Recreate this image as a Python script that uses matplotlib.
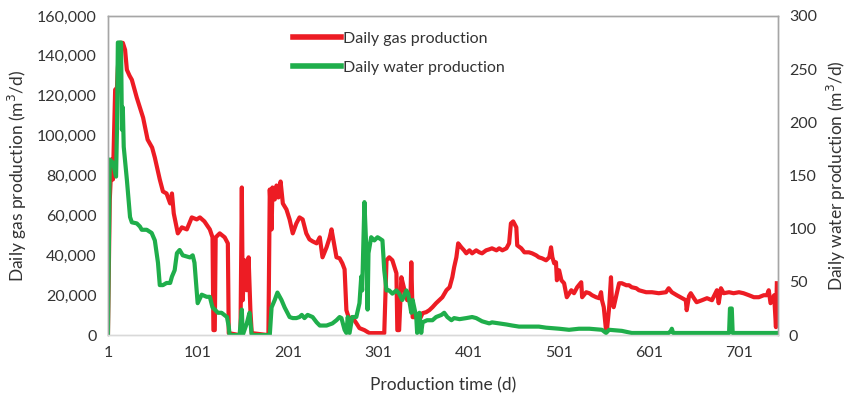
import matplotlib.pyplot as plt
from matplotlib.ticker import FuncFormatter

# gas production, left axis (m3/d)
gas_day = [1, 3, 5, 6.5, 9, 11, 12, 14, 17.5, 20, 22, 25, 27.5, 33, 40, 45, 50, 53, 58.5, 62,
           66, 70, 72, 74, 78.5, 83, 88.5, 94, 99.5, 103, 108, 114, 117, 118, 119.5, 120.5, 125, 130.5,
           134, 135, 147, 148, 149.5, 150.5, 152.5, 155, 157, 159, 160.5, 179, 180.5, 182.5, 183.5, 186,
           188, 190, 192.5, 195, 199, 202.5, 206, 210, 213.5, 217, 221, 224.5, 228, 232.5, 236, 239,
           243.5, 247, 249, 251, 254.5, 258, 261, 263.5, 265.5, 269, 272, 276.5, 280, 285.5, 291, 307.5,
           310, 313, 316.5, 321, 322, 324, 326.5, 330, 333, 336.5, 337.5, 339, 343, 346.5, 350, 354,
           357.5, 361, 365, 368.5, 372, 376.5, 380, 383, 385, 387.5, 389.5, 393, 396, 398.5, 402, 405,
           409.5, 413, 416, 420.5, 424, 427, 432, 435, 438.5, 443, 446, 448, 450.5, 454, 455, 459.5,
           463, 468, 471.5, 476, 479, 482.5, 487, 490.5, 492.5, 494, 496, 498, 499, 501.5, 504, 507,
           510, 515, 518, 521.5, 526, 527, 531.5, 535, 538, 542.5, 546, 548, 549, 551, 553.5, 554.5,
           557, 559, 560, 562, 564.5, 568, 571, 576, 579, 582, 587, 590, 598, 604.5, 612, 620, 623,
           626.5, 632, 638, 642, 643, 645.5, 647.5, 651, 654, 660, 665.5, 671, 676.5, 678.5, 681, 684,
           690, 695, 701, 706, 712, 717.5, 723, 728.5, 732, 734, 736, 740, 742, 743]
gas_val = [0, 67700, 88000, 78000, 123000, 124000, 134000, 146500, 146500, 143000, 133000, 130000,
           128000, 119000, 109000, 98000, 94000, 89000, 78000, 72000, 71000, 66000, 71000, 61000,
           51000, 54000, 53000, 59000, 58000, 59000, 57000, 53000, 49000, 2500, 2500, 49000, 51000,
           49000, 46000, 1000, 0, 0, 74000, 17500, 37500, 22500, 39000, 12500, 1000, 0, 73000, 53000,
           74000, 68000, 75000, 69000, 77000, 66000, 63000, 58000, 51000, 56000, 59000, 58000, 51000,
           48000, 47000, 46000, 49000, 39000, 44000, 49000, 53000, 48000, 39000, 38500, 36000, 33000,
           12500, 7500, 9000, 6000, 3500, 2500, 1000, 1000, 37500, 39000, 37500, 31000, 2500, 2500,
           29000, 22500, 17500, 17500, 36500, 9000, 9000, 7500, 11000, 11500, 12500, 14000, 16000,
           17500, 19000, 22500, 24000, 29000, 34000, 39000, 46000, 44000, 42500, 41000, 42500, 41000,
           42500, 41500, 41000, 42500, 43000, 43500, 42500, 43500, 42500, 43500, 46000, 56000, 57000,
           54000, 45000, 43500, 41500, 41500, 41000, 40000, 39000, 38500, 37500, 39000, 44000, 39000,
           36000, 36500, 27500, 32500, 27500, 26000, 19000, 22500, 21000, 24000, 26500, 19000, 21500,
           21000, 20000, 19000, 18500, 21500, 17500, 14000, 2500, 2500, 14000, 29000, 17500, 14000,
           19000, 26000, 26000, 25000, 25000, 24000, 23500, 22500, 21500, 21500, 21000, 21500, 23500,
           21500, 20000, 18500, 17500, 12500, 19500, 21000, 18500, 16500, 17500, 18500, 17500, 22500,
           16000, 23500, 21000, 21500, 21000, 21500, 21000, 20000, 19000, 19000, 20000, 20000, 22500,
           16000, 20000, 4000, 26000]

# water production, right axis (m3/d)
water_day = [1, 3, 6.5, 10, 11, 12, 15.5, 16.5, 17.5, 18.5, 22, 25.5, 27.5, 33, 36.5, 38.5, 44, 49.5,
             53, 56.5, 58.5, 62, 66, 70, 72, 75, 77.5, 80.5, 84, 92, 95, 97, 99.5, 100.5, 105, 110.5,
             114, 117, 119.5, 123, 127, 133, 135, 136, 147, 149.5, 150.5, 155, 158, 160.5, 180.5,
             182.5, 186, 189, 193.5, 197, 202.5, 206, 210, 213.5, 216, 219, 222.5, 228, 232.5, 236,
             243.5, 250, 254.5, 258, 260, 263.5, 265.5, 267, 269, 272, 276.5, 280, 282, 283, 285.5,
             288, 289, 290, 293, 296.5, 300, 302, 305.5, 307.5, 310, 313, 316.5, 321, 324, 327.5, 332,
             334, 337.5, 339, 343, 344, 346.5, 348.5, 350, 355, 361, 365, 371, 374, 377.5, 382, 385,
             391, 398.5, 405, 409.5, 416, 424, 427, 435, 443, 449.5, 457, 465, 479, 487, 501.5, 512.5,
             523.5, 535, 549, 553.5, 557, 571, 582, 623, 625.5, 626.5, 628, 690, 691, 693, 694, 743]
water_val = [0, 165, 162, 149, 193, 275, 275, 193, 214, 177, 146, 111, 106, 105, 102, 99, 99, 96, 89,
             68, 47, 47, 49, 49, 55, 61, 77, 80, 75, 73, 75, 68, 40, 30, 38, 36, 36, 26, 24, 21, 21, 17,
             8, 0, 0, 24, 0, 11, 21, 0, 0, 26, 33, 40, 33, 26, 17, 16, 16, 17, 19, 16, 19, 17, 12, 9, 9,
             11, 14, 17, 16, 5, 2, 17, 2, 17, 17, 30, 55, 42, 125, 73, 24, 77, 92, 89, 92, 91, 89, 61,
             42, 42, 39, 42, 39, 33, 42, 39, 21, 33, 17, 2, 21, 2, 12, 14, 14, 17, 19, 21, 17, 14, 16, 15,
             16, 17, 16, 13, 11, 12, 11, 10, 9, 8, 8, 8, 7, 6, 5, 6, 6, 5, 2, 5, 4, 2, 2, 4, 6, 2, 2, 25,
             25, 2, 2]

x_ticks = [1, 101, 201, 301, 401, 501, 601, 701]
gas_ticks = list(range(0, 160001, 20000))
water_ticks = list(range(0, 301, 50))

red = '#ed1c24'
green = '#1fae4b'

plt.rcParams['font.family'] = ['Lato', 'DejaVu Sans']

fig = plt.figure(figsize=(8.5, 3.98), dpi=100)
ax = fig.add_axes([0.127, 0.158, 0.788, 0.802])
ax2 = ax.twinx()

l1, = ax.plot(gas_day, gas_val, color=red, lw=3.0, solid_joinstyle='round')
l2, = ax2.plot(water_day, water_val, color=green, lw=3.0, solid_joinstyle='round')

ax.set_xlim(1, 744)
ax.set_ylim(0, 160000)
ax2.set_ylim(0, 300)
ax.set_xticks(x_ticks)
ax.set_yticks(gas_ticks)
ax2.set_yticks(water_ticks)
ax.yaxis.set_major_formatter(FuncFormatter(lambda v, p: f'{int(v):,}'))

for a in (ax, ax2):
    a.tick_params(length=0, labelsize=11.5, colors='#333333', pad=8)
    for s in a.spines.values():
        s.set_color('#a6a6a6')
        s.set_linewidth(1.0)
    a.spines['bottom'].set_color('#d9d9d9')

ax.set_xlabel('Production time (d)', fontsize=12.5, color='#333333', labelpad=12)
ax.set_ylabel('Daily gas production (m$^3$/d)', fontsize=12.5, color='#333333', labelpad=6)
ax2.set_ylabel('Daily water production (m$^3$/d)', fontsize=12.5, color='#333333', labelpad=6)

ax2.legend([l1, l2], ['Daily gas production', 'Daily water production'],
           loc='upper left', bbox_to_anchor=(0.255, 0.995), frameon=False,
           fontsize=11.5, handlelength=3.0, labelspacing=0.9, handletextpad=0.1,
           labelcolor='#333333')
for line in ax2.get_legend().get_lines():
    line.set_linewidth(4)

fig.savefig('out.png', dpi=100)
